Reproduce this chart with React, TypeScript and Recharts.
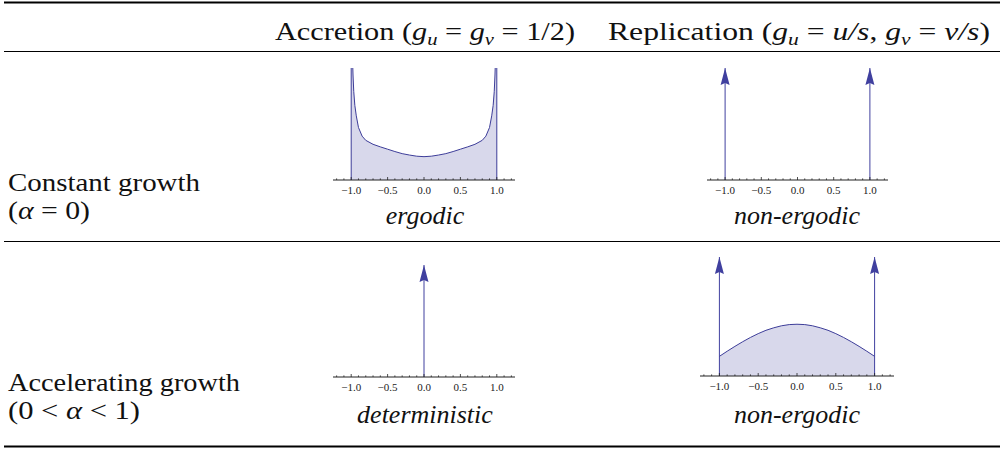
import React from "react";
import { ComposedChart, Area, Line, XAxis, YAxis } from "recharts";

// axis ticks (Mathematica style: minor every 0.1, labelled every 0.5)
const tickValues = [
  -1.2, -1.1, -1.0, -0.9, -0.8, -0.7, -0.6, -0.5, -0.4, -0.3, -0.2, -0.1, 0,
  0.1, 0.2, 0.3, 0.4, 0.5, 0.6, 0.7, 0.8, 0.9, 1.0, 1.1, 1.2,
];
const majorTicks = [-1.0, -0.5, 0, 0.5, 1.0];

// accretion, constant growth (ergodic density, diverges at the ends)
const ergodicX = [
  -1, -1, -0.985, -0.975, -0.965, -0.95, -0.93, -0.9, -0.85, -0.8, -0.7, -0.6,
  -0.5, -0.4, -0.3, -0.2, -0.1, 0, 0.1, 0.2, 0.3, 0.4, 0.5, 0.6, 0.7, 0.8,
  0.85, 0.9, 0.93, 0.95, 0.965, 0.975, 0.985, 1, 1,
];
const ergodicY = [
  0, 8, 5.5, 4.5, 3.8, 3.2, 2.75, 2.25, 1.88, 1.7, 1.53, 1.42, 1.32, 1.22, 1.13,
  1.07, 1.02, 1.0, 1.02, 1.07, 1.13, 1.22, 1.32, 1.42, 1.53, 1.7, 1.88, 2.25,
  2.75, 3.2, 3.8, 4.5, 5.5, 8, 0,
];

// replication, accelerating growth (continuous part between the two atoms)
const bumpX = [
  -1, -0.9, -0.8, -0.7, -0.6, -0.5, -0.4, -0.3, -0.2, -0.1, 0, 0.1, 0.2, 0.3,
  0.4, 0.5, 0.6, 0.7, 0.8, 0.9, 1,
];
const bumpY = [
  0.165, 0.208, 0.249, 0.288, 0.324, 0.356, 0.384, 0.405, 0.422, 0.432, 0.435,
  0.432, 0.422, 0.405, 0.384, 0.356, 0.324, 0.288, 0.249, 0.208, 0.165,
];

// delta masses (arrows)
const nonErgodicAtoms = [-1, 1];
const deterministicAtoms = [0];
const bothEndsAtoms = [-1, 1];

const BLUE = "#3d3d99";
const ARROW = "#40409f";
const SERIF = "Liberation Serif, Times New Roman, serif";

const toRows = (xs: number[], ys: number[]) => xs.map((x, i) => ({ x, y: ys[i] }));

function AxisTick(props: any) {
  const { x, y, payload } = props;
  const v = payload.value as number;
  const major = majorTicks.some((m) => Math.abs(m - v) < 1e-9);
  const label = v.toFixed(1).replace("-", "\u2212");
  return (
    <g>
      <line x1={x} x2={x} y1={y} y2={y - (major ? 3 : 1.6)} stroke="#222" strokeWidth={0.8} />
      {major && (
        <text x={x} y={y + 14} textAnchor="middle" fontFamily={SERIF} fontSize={11} fill="#222">
          {label}
        </text>
      )}
    </g>
  );
}

function arrowHead(p: any) {
  if (p.index !== 1) return <g key={`d${p.index}`} />;
  const { cx, cy } = p;
  return (
    <polygon
      key={`h${p.index}`}
      points={`${cx},${cy} ${cx - 4.5},${cy + 17} ${cx},${cy + 15} ${cx + 4.5},${cy + 17}`}
      fill={ARROW}
    />
  );
}

type PanelProps = {
  left: number;
  top: number;
  width: number;
  plotHeight: number;
  yMax: number;
  area?: { x: number; y: number }[];
  atoms?: number[];
};

function Panel({ left, top, width, plotHeight, yMax, area, atoms }: PanelProps) {
  return (
    <div style={{ position: "absolute", left, top }}>
      <ComposedChart
        width={width}
        height={plotHeight + 24}
        margin={{ top: 0, right: 0, bottom: 0, left: 0 }}
      >
        <XAxis
          type="number"
          dataKey="x"
          domain={[-1.25, 1.25]}
          allowDataOverflow
          ticks={tickValues}
          interval={0}
          tick={<AxisTick />}
          tickLine={false}
          tickSize={0}
          tickMargin={0}
          height={24}
          axisLine={{ stroke: "#222", strokeWidth: 1 }}
        />
        <YAxis type="number" domain={[0, yMax]} allowDataOverflow hide />
        {area && (
          <Area
            data={area}
            dataKey="y"
            type="linear"
            stroke={BLUE}
            strokeWidth={1}
            fill={BLUE}
            fillOpacity={0.2}
            isAnimationActive={false}
          />
        )}
        {atoms &&
          atoms.map((a) => (
            <Line
              key={a}
              data={[
                { x: a, y: 0 },
                { x: a, y: yMax },
              ]}
              dataKey="y"
              type="linear"
              stroke={ARROW}
              strokeWidth={1}
              dot={arrowHead}
              activeDot={false}
              isAnimationActive={false}
            />
          ))}
      </ComposedChart>
    </div>
  );
}

export default function App() {
  const t = { fontFamily: SERIF, fontSize: 25, fill: "#111", lengthAdjust: "spacingAndGlyphs" };
  const itl = { fontFamily: SERIF, fontSize: 26, fill: "#111", fontStyle: "italic" };
  const sub = { fontSize: 17 };
  return (
    <div
      style={{
        position: "absolute",
        left: 0,
        top: 0,
        width: 1004,
        height: 449,
        background: "#fff",
        overflow: "hidden",
      }}
    >
      <svg width={1004} height={449} style={{ position: "absolute", left: 0, top: 0 }}>
        <line x1={4} x2={1000} y1={2.5} y2={2.5} stroke="#000" strokeWidth={2} />
        <line x1={4} x2={1000} y1={51.5} y2={51.5} stroke="#000" strokeWidth={1.2} />
        <line x1={4} x2={1000} y1={241.5} y2={241.5} stroke="#000" strokeWidth={1.2} />
        <line x1={4} x2={1000} y1={446.5} y2={446.5} stroke="#000" strokeWidth={2} />

        <text x={275} y={40} {...t} textLength={300}>
          Accretion (<tspan fontStyle="italic">g</tspan>
          <tspan {...sub} fontStyle="italic" dy={5}>u</tspan>
          <tspan dy={-5}> = </tspan>
          <tspan fontStyle="italic">g</tspan>
          <tspan {...sub} fontStyle="italic" dy={5}>v</tspan>
          <tspan dy={-5}> = 1/2)</tspan>
        </text>
        <text x={608} y={40} {...t} textLength={382}>
          Replication (<tspan fontStyle="italic">g</tspan>
          <tspan {...sub} fontStyle="italic" dy={5}>u</tspan>
          <tspan dy={-5}> = </tspan>
          <tspan fontStyle="italic">u/s</tspan>
          <tspan>, </tspan>
          <tspan fontStyle="italic">g</tspan>
          <tspan {...sub} fontStyle="italic" dy={5}>v</tspan>
          <tspan dy={-5}> = </tspan>
          <tspan fontStyle="italic">v/s</tspan>
          <tspan>)</tspan>
        </text>

        <text x={8} y={191} {...t} textLength={192}>Constant growth</text>
        <text x={8} y={219} {...t} textLength={82}>
          (<tspan fontStyle="italic">α</tspan> = 0)
        </text>
        <text x={425} y={224} {...itl} textAnchor="middle">ergodic</text>
        <text x={797} y={224} {...itl} textAnchor="middle">non-ergodic</text>

        <text x={8} y={391} {...t} textLength={232}>Accelerating growth</text>
        <text x={8} y={419} {...t} textLength={132}>
          (0 &lt; <tspan fontStyle="italic">α</tspan> &lt; 1)
        </text>
        <text x={425} y={423} {...itl} textAnchor="middle">deterministic</text>
        <text x={797} y={423} {...itl} textAnchor="middle">non-ergodic</text>
      </svg>

      <Panel left={333} top={68} width={182} plotHeight={112} yMax={4.8} area={toRows(ergodicX, ergodicY)} />
      <Panel left={707} top={68} width={181} plotHeight={112} yMax={1} atoms={nonErgodicAtoms} />
      <Panel left={333} top={265} width={182} plotHeight={112} yMax={1} atoms={deterministicAtoms} />
      <Panel
        left={700}
        top={257}
        width={194}
        plotHeight={119}
        yMax={1}
        area={toRows(bumpX, bumpY)}
        atoms={bothEndsAtoms}
      />
    </div>
  );
}
